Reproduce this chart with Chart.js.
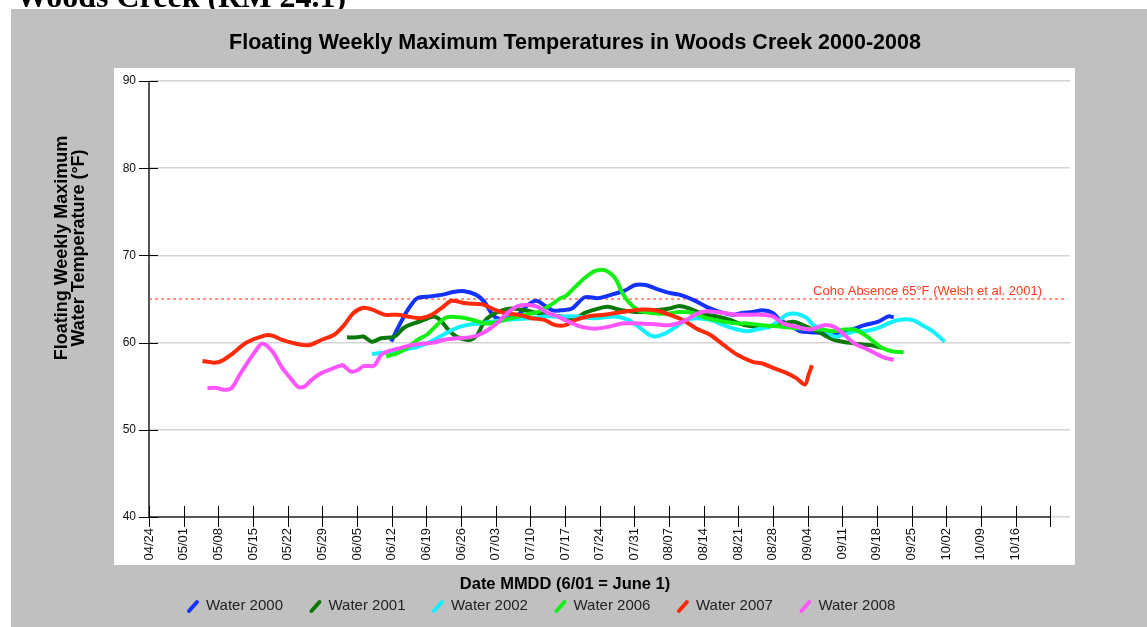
<!DOCTYPE html>
<html>
<head>
<meta charset="utf-8">
<title>Woods Creek temperatures</title>
<script src="https://cdn.jsdelivr.net/npm/chart.js@4/dist/chart.umd.min.js"></script>
<style>
  html, body { margin: 0; padding: 0; background: #fff; }
  #wrap { position: relative; width: 1147px; height: 627px; }
</style>
</head>
<body>
<div id="wrap"><canvas id="chart" width="1147" height="627"></canvas></div>
<script>
const SANS = '"Liberation Sans", Arial, sans-serif';

// x values are days after 04/24
const tickLabels = ['04/24', '05/01', '05/08', '05/15', '05/22', '05/29', '06/05', '06/12', '06/19',
  '06/26', '07/03', '07/10', '07/17', '07/24', '07/31', '08/07', '08/14', '08/21', '08/28',
  '09/04', '09/11', '09/18', '09/25', '10/02', '10/09', '10/16', ''];
const tickDays = tickLabels.map((_, i) => i * 7);

const seriesNames = ['Water 2000', 'Water 2001', 'Water 2002', 'Water 2006', 'Water 2007', 'Water 2008'];
const seriesColors = ['#1432ff', '#087808', '#10f0ff', '#14f014', '#ff2a0a', '#ff55ff'];

const days2000 = [48.9, 50.2, 52.2, 54.2, 56.8, 59.4, 61.4, 63.7, 66.0, 67.7, 69.0, 70.3, 72.6, 74.6, 76.5, 78.2, 79.8, 81.5, 83.1, 85.4, 88.0, 90.7, 93.4, 96.2, 98.2, 100.3, 102.3, 105.1, 107.1, 109.9, 112.6, 115.4, 118.1, 119.8, 121.9, 123.9, 126.0, 127.4, 129.4, 131.5, 133.6, 136.3, 138.4, 140.4, 142.5, 144.5, 147.3, 149.3, 150.4];
const temp2000 = [60.1, 61.6, 63.7, 65.1, 65.3, 65.5, 65.8, 65.9, 65.5, 64.7, 63.5, 62.8, 62.8, 63.2, 64.3, 64.8, 64.3, 63.7, 63.7, 63.9, 65.2, 65.1, 65.5, 66.0, 66.6, 66.6, 66.2, 65.7, 65.5, 64.9, 64.1, 63.5, 63.2, 63.4, 63.5, 63.7, 63.4, 62.6, 62.0, 61.3, 61.2, 61.1, 60.9, 61.2, 61.6, 62.0, 62.4, 63.0, 62.9];

const days2001 = [40.0, 42.0, 43.3, 45.0, 46.9, 49.6, 51.5, 53.5, 55.5, 57.5, 58.8, 60.4, 62.1, 64.7, 66.3, 67.7, 69.3, 71.3, 73.2, 75.9, 78.5, 80.5, 83.1, 86.1, 88.0, 90.7, 92.7, 95.5, 98.9, 102.3, 105.1, 107.1, 109.2, 111.9, 114.7, 117.4, 120.2, 123.3, 126.7, 130.1, 132.9, 135.6, 138.4, 141.1, 143.9, 145.9, 148.0];
const temp2001 = [60.6, 60.6, 60.7, 60.1, 60.5, 60.7, 61.7, 62.2, 62.6, 63.0, 62.6, 61.5, 60.7, 60.3, 60.9, 62.4, 63.2, 63.7, 63.9, 63.7, 63.4, 63.2, 63.0, 62.8, 63.4, 63.9, 64.1, 63.7, 63.5, 63.7, 63.9, 64.2, 63.9, 63.3, 63.0, 62.6, 62.0, 61.8, 62.0, 62.4, 61.8, 61.1, 60.3, 60.0, 59.8, 59.7, 59.4];

const days2002 = [45.0, 48.2, 50.9, 53.5, 56.1, 58.8, 61.4, 64.0, 66.7, 69.3, 71.9, 74.6, 77.2, 79.8, 82.5, 86.1, 90.0, 94.1, 96.8, 98.9, 101.0, 102.3, 104.4, 106.4, 108.5, 110.6, 113.3, 116.1, 118.8, 120.9, 122.6, 125.3, 127.4, 128.8, 130.8, 132.9, 134.2, 136.3, 138.4, 140.4, 142.5, 144.5, 147.3, 149.3, 151.4, 154.2, 156.2, 158.3, 160.7];
const temp2002 = [58.7, 58.9, 59.2, 59.4, 59.9, 60.7, 61.5, 62.0, 62.2, 62.4, 62.6, 62.7, 62.8, 63.0, 63.0, 63.0, 62.8, 63.0, 62.6, 61.8, 60.9, 60.7, 61.1, 61.8, 62.6, 62.8, 62.6, 62.0, 61.5, 61.3, 61.5, 61.8, 62.6, 63.2, 63.3, 62.8, 62.0, 61.5, 60.7, 60.9, 61.3, 61.3, 61.7, 62.2, 62.6, 62.6, 62.0, 61.3, 60.1];

const days2006 = [47.9, 50.2, 52.2, 54.2, 56.1, 58.1, 60.1, 62.7, 65.4, 68.0, 70.6, 73.2, 75.9, 78.5, 81.1, 83.1, 84.1, 86.1, 88.0, 90.0, 92.0, 94.1, 95.5, 96.8, 98.9, 101.7, 104.4, 107.1, 109.9, 112.6, 116.1, 118.8, 120.9, 123.9, 128.1, 132.2, 135.6, 138.4, 140.4, 142.5, 144.5, 146.6, 148.0, 150.0, 152.4];
const temp2006 = [58.4, 58.8, 59.4, 60.3, 60.9, 62.0, 62.9, 62.9, 62.6, 62.2, 62.4, 62.8, 63.2, 63.5, 64.3, 65.1, 65.3, 66.4, 67.4, 68.2, 68.3, 67.4, 65.8, 64.7, 63.7, 63.4, 63.3, 63.5, 63.4, 62.8, 62.4, 62.2, 62.2, 62.0, 61.8, 61.6, 61.5, 61.3, 61.5, 61.5, 60.9, 60.0, 59.4, 59.0, 58.9];

const days2007 = [10.8, 13.1, 14.7, 17.0, 19.7, 23.3, 24.9, 26.9, 29.5, 32.2, 34.8, 37.4, 39.4, 41.3, 43.3, 45.0, 47.6, 50.2, 52.2, 54.8, 57.1, 59.4, 61.1, 64.0, 67.3, 69.3, 71.9, 74.6, 77.2, 79.8, 82.1, 84.1, 86.1, 88.7, 92.0, 95.5, 99.6, 102.3, 105.1, 107.8, 110.6, 113.3, 116.1, 118.8, 121.9, 123.9, 126.0, 128.8, 130.8, 132.5, 133.2, 133.9];
const temp2007 = [57.9, 57.7, 57.9, 58.8, 60.0, 60.8, 60.8, 60.3, 59.9, 59.7, 60.3, 60.9, 62.0, 63.4, 64.0, 63.8, 63.2, 63.2, 63.0, 62.8, 63.2, 64.1, 64.8, 64.5, 64.4, 63.9, 63.4, 63.2, 62.8, 62.6, 62.0, 62.0, 62.6, 63.0, 63.2, 63.5, 63.8, 63.7, 63.2, 62.6, 61.6, 60.9, 59.7, 58.6, 57.8, 57.6, 57.1, 56.5, 55.9, 55.2, 56.3, 57.4];

const days2008 = [11.8, 13.7, 15.1, 16.7, 18.3, 20.0, 21.6, 22.9, 24.9, 26.9, 28.9, 30.2, 31.5, 32.8, 34.8, 37.4, 39.1, 40.7, 42.0, 43.3, 45.0, 45.6, 46.9, 48.2, 50.9, 52.9, 55.5, 57.5, 59.4, 62.1, 64.7, 66.7, 68.6, 70.6, 72.6, 74.6, 76.5, 78.5, 80.5, 82.5, 84.7, 87.4, 90.0, 92.7, 95.5, 98.9, 102.3, 105.1, 107.8, 110.6, 112.6, 116.1, 118.8, 120.9, 123.9, 126.0, 128.1, 130.8, 133.6, 136.3, 138.4, 140.4, 142.5, 145.2, 148.0, 150.4];
const temp2008 = [54.8, 54.8, 54.6, 54.8, 56.3, 57.8, 59.1, 59.9, 59.0, 57.1, 55.7, 54.9, 55.0, 55.7, 56.5, 57.1, 57.4, 56.7, 56.8, 57.3, 57.3, 57.4, 58.6, 59.0, 59.4, 59.7, 59.9, 60.0, 60.3, 60.5, 60.6, 60.9, 61.5, 62.4, 63.5, 64.2, 64.3, 64.1, 63.4, 63.0, 62.4, 61.8, 61.6, 61.8, 62.2, 62.2, 62.1, 62.0, 62.4, 63.3, 63.6, 63.4, 63.2, 63.2, 63.2, 63.0, 62.2, 61.8, 61.5, 62.0, 61.8, 60.9, 59.9, 59.2, 58.4, 58.0];

const seriesDays = [days2000, days2001, days2002, days2006, days2007, days2008];
const seriesTemps = [temp2000, temp2001, temp2002, temp2006, temp2007, temp2008];

const cohoLimit = 65;
const cohoText = 'Coho Absence 65°F (Welsh et al. 2001)';
const pageHeading = 'Woods Creek (RM 24.1)';
const chartTitle = 'Floating Weekly Maximum Temperatures in Woods Creek 2000-2008';
const yTitleLines = ['Floating Weekly Maximum', 'Water Temperature (°F)'];
const xTitle = 'Date MMDD (6/01 = June 1)';

let datasets = seriesNames.map((name, i) => ({
    label: name,
    data: seriesDays[i].map((d, k) => ({ x: d, y: seriesTemps[i][k] })),
    borderColor: seriesColors[i],
    backgroundColor: seriesColors[i],
    borderWidth: 4,
    pointRadius: 0,
    tension: 0.3,
    order: seriesNames.length - i
}));

datasets.push({
    label: 'coho',
    data: [{ x: 0, y: cohoLimit }, { x: 185.5, y: cohoLimit }],
    borderColor: '#ff2a0a',
    borderWidth: 1,
    borderDash: [3, 3],
    pointRadius: 0,
    order: 20
});

// gray panel, white plot box, axes, titles and legend
const decor = {
    id: 'decor',
    beforeDraw(chart) {
        let ctx = chart.ctx;
        ctx.save();
        ctx.fillStyle = '#fff';
        ctx.fillRect(0, 0, chart.width, chart.height);
        ctx.fillStyle = '#000';
        ctx.font = 'bold 32px "Liberation Serif", serif';
        ctx.textBaseline = 'alphabetic';
        ctx.fillText(pageHeading, 16, 7);
        ctx.fillStyle = '#c0c0c0';
        ctx.fillRect(11, 9, chart.width - 11, chart.height - 9);
        ctx.fillStyle = '#fff';
        ctx.fillRect(114, 68, 961, 497);
        ctx.restore();
    },
    afterDraw(chart) {
        let ctx = chart.ctx;
        let xs = chart.scales.x;
        let ys = chart.scales.y;
        let x0 = xs.getPixelForValue(0);
        let x1 = xs.getPixelForValue(tickDays[tickDays.length - 1]);
        let yb = ys.getPixelForValue(40);
        let yt = ys.getPixelForValue(90);

        ctx.save();
        // axis lines
        ctx.strokeStyle = '#555';
        ctx.lineWidth = 2;
        ctx.beginPath();
        ctx.moveTo(x0, yt);
        ctx.lineTo(x0, yb);
        ctx.lineTo(x1, yb);
        ctx.stroke();

        ctx.strokeStyle = '#000';
        ctx.lineWidth = 1;
        ctx.beginPath();
        for (let v = 40; v <= 90; v += 10) {
            let py = Math.round(ys.getPixelForValue(v)) + 0.5;
            ctx.moveTo(x0 - 10, py);
            ctx.lineTo(x0 + 9, py);
        }
        tickDays.forEach(d => {
            let px = Math.round(xs.getPixelForValue(d)) + 0.5;
            ctx.moveTo(px, yb - 11);
            ctx.lineTo(px, yb + 10);
        });
        ctx.stroke();

        // threshold label
        ctx.fillStyle = '#ff3c1e';
        ctx.font = '13px ' + SANS;
        ctx.textAlign = 'right';
        ctx.textBaseline = 'alphabetic';
        ctx.fillText(cohoText, 1042, ys.getPixelForValue(cohoLimit) - 4);

        // main title
        ctx.fillStyle = '#000';
        ctx.textAlign = 'center';
        ctx.textBaseline = 'middle';
        ctx.font = 'bold 21.5px ' + SANS;
        ctx.fillText(chartTitle, 575, 43);

        // x title
        ctx.font = 'bold 16.5px ' + SANS;
        ctx.fillText(xTitle, 565, 584);

        // y title
        ctx.font = 'bold 18px ' + SANS;
        ctx.save();
        ctx.translate(62, 248);
        ctx.rotate(-Math.PI / 2);
        ctx.fillText(yTitleLines[0], 0, 0);
        ctx.fillText(yTitleLines[1], 0, 17);
        ctx.restore();

        // legend
        ctx.font = '15px ' + SANS;
        ctx.textAlign = 'left';
        let lx = 187;
        let ly = 606;
        seriesNames.forEach((name, i) => {
            ctx.strokeStyle = seriesColors[i];
            ctx.lineWidth = 4;
            ctx.lineCap = 'round';
            ctx.beginPath();
            ctx.moveTo(lx + 2, ly + 5);
            ctx.lineTo(lx + 10, ly - 4);
            ctx.stroke();
            ctx.fillStyle = '#222';
            ctx.fillText(name, lx + 19, ly);
            lx += 19 + ctx.measureText(name).width + 26.5;
        });
        ctx.restore();
    }
};

let graph = new Chart(document.getElementById('chart'), {
    type: 'line',
    data: { datasets: datasets },
    plugins: [decor],
    options: {
        responsive: false,
        animation: false,
        devicePixelRatio: 1,
        layout: { padding: { left: 109, right: 77, top: 81, bottom: 50 } },
        plugins: {
            legend: { display: false },
            title: { display: false },
            tooltip: { enabled: false }
        },
        scales: {
            x: {
                type: 'linear',
                min: 0,
                max: 186,
                afterBuildTicks: s => { s.ticks = tickDays.map(v => ({ value: v })); },
                afterFit: s => { s.height = 60; },
                grid: { display: false },
                border: { display: false },
                ticks: {
                    autoSkip: false,
                    minRotation: 90,
                    maxRotation: 90,
                    padding: 3,
                    color: '#111',
                    font: { size: 13, family: SANS },
                    callback: v => tickLabels[tickDays.indexOf(v)] || ''
                }
            },
            y: {
                min: 40,
                max: 90,
                afterFit: s => { s.width = 40; },
                grid: { color: '#d4d4d4', lineWidth: 1.5, drawTicks: false },
                border: { display: false },
                ticks: {
                    stepSize: 10,
                    padding: 13,
                    color: '#111',
                    font: { size: 12, family: SANS }
                }
            }
        }
    }
});
</script>
</body>
</html>
